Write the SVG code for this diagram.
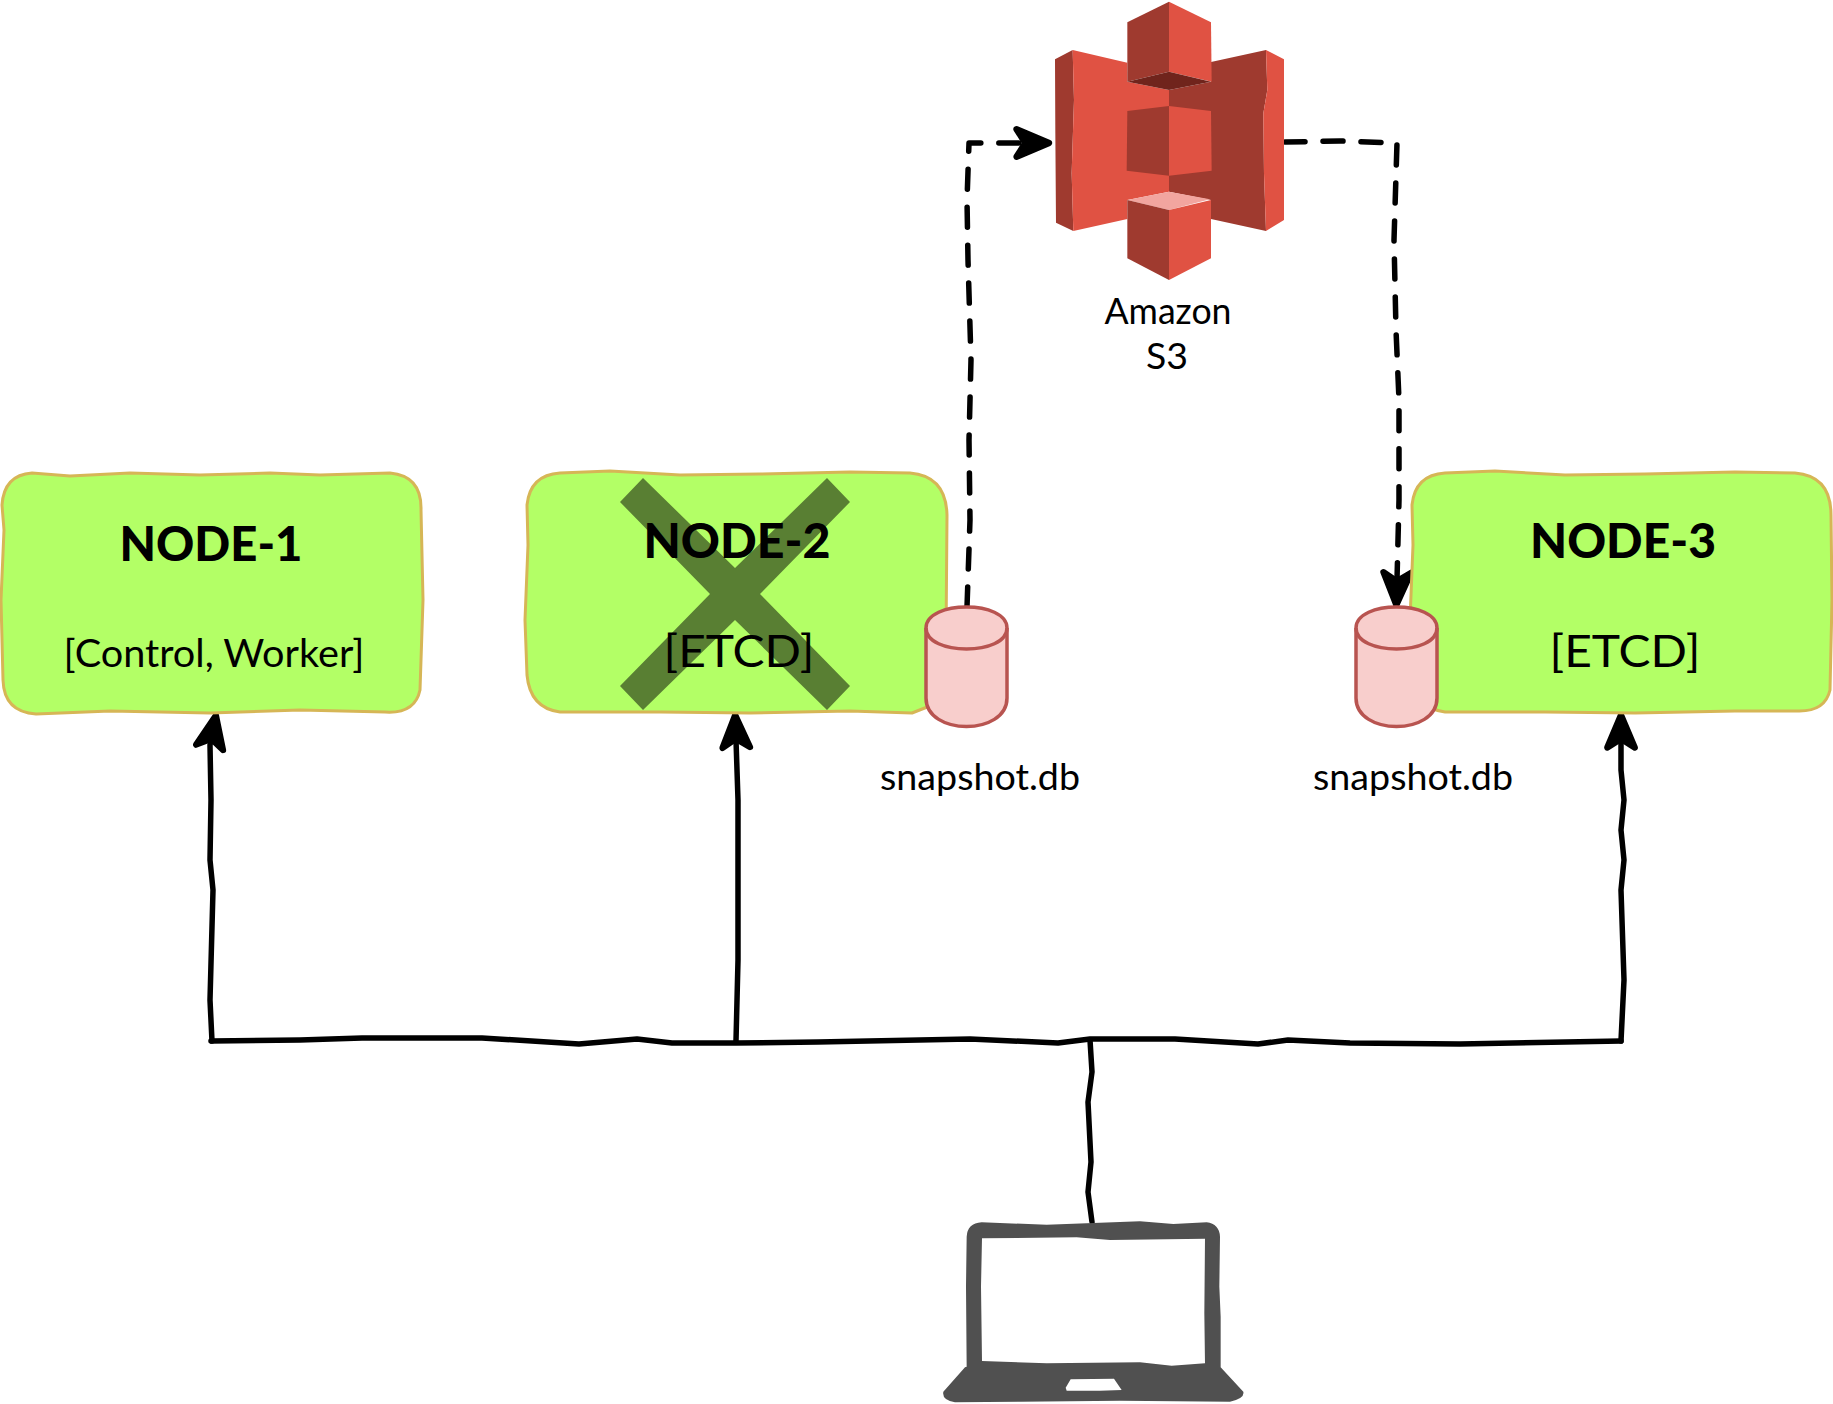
<svg xmlns="http://www.w3.org/2000/svg" width="1833" height="1404" viewBox="0 0 1833 1404">
<style>
.box{fill:#b3ff66;stroke:#d6b656;stroke-width:3;stroke-linejoin:round}
.t{font-family:"Lato","Noto Sans",sans-serif;fill:#000;text-anchor:middle}
.h{font-size:47px;font-weight:900}
.s{font-size:45px}
.m{font-size:37px}
.c{fill:none;stroke:#000;stroke-width:5.5;stroke-linejoin:round;stroke-linecap:round}
.d{stroke-dasharray:20 18}
.cyl{fill:#f8cecc;stroke:#b85450;stroke-width:3.5}
.r{fill:#e05243}.k{fill:#9f3a2f}
</style>
<defs>
<marker id="ah" markerUnits="userSpaceOnUse" markerWidth="50" markerHeight="50" viewBox="-5 -20 40 40" refX="6" refY="0" orient="auto">
<path d="M0,-11 L26,0 L0,11 L7,0 Z" fill="#000" stroke="#000" stroke-width="5" stroke-linejoin="round"/>
</marker>
</defs>
<g id="connectors">
<path class="c" d="M211,1041 L300,1040 L362,1038 L482,1038 L579,1044 L637,1039 L672,1043 L736,1043 L818,1042 L970,1039 L1058,1043 L1090,1039 L1175,1039 L1208,1041 L1258,1044 L1288,1040 L1350,1043 L1460,1044 L1621,1041"/>
<path class="c" d="M1090,1040 L1092,1072 L1088,1102 L1091,1162 L1088,1192 L1092,1222"/>
<path class="c" d="M212,1041 L210,1000 L213,890 L210,860 L211,800 L210,745 L211,740" marker-end="url(#ah)"/>
<path class="c" d="M736,1041 L738,960 L738,800 L736,740" marker-end="url(#ah)"/>
<path class="c" d="M1621,1041 L1624,980 L1621,890 L1624,860 L1621,830 L1624,800 L1621,770 L1621,740" marker-end="url(#ah)"/>
<path class="c d" d="M967,607 L970,520 L969,440 L971,360 L968,260 L967,200 L969,143 L1024,143" marker-end="url(#ah)"/>
<path class="c d" d="M1285,142 L1340,141 L1397,143 L1394,240 L1396,330 L1399,400 L1399,500 L1397,580" marker-end="url(#ah)"/>
</g>
<g id="node-1">
<path class="box" d="M32,473 L70,476 L130,473 L200,475 L270,473 L320,475 L390,473 Q422,476 421,510 L423,600 L420,690 Q415,714 385,712 L300,710 L210,713 L110,711 L36,714 Q4,712 3,680 L1,600 L4,530 L2,505 Q4,475 32,473 Z"/>
<text class="t h" x="211" y="561" textLength="183" lengthAdjust="spacingAndGlyphs">NODE-1</text>
<text class="t s" x="214" y="667" textLength="301" lengthAdjust="spacingAndGlyphs" style="font-size:39px">[Control, Worker]</text>
</g>
<g id="node-2">
<path class="box" d="M560,473 L610,471 L680,475 L760,474 L850,472 L910,473 Q946,476 947,515 L946,640 L945,700 L912,713 L850,711 L750,713 L660,712 L560,712 Q530,708 527,675 L525,620 L528,545 L527,505 Q530,475 560,473 Z"/>
<path id="cross" fill="#000" fill-opacity="0.5" d="M643,478 L735,568 L827,478 L850,502 L760,594 L850,686 L827,710 L735,620 L643,710 L620,686 L710,594 L620,502 Z"/>
<text class="t h" x="737" y="558" textLength="187" lengthAdjust="spacingAndGlyphs">NODE-2</text>
<text class="t s" x="739" y="667" textLength="151" lengthAdjust="spacingAndGlyphs">[ETCD]</text>
</g>
<g id="node-3">
<path class="box" d="M1445,473 L1495,471 L1565,475 L1645,474 L1735,472 L1795,473 Q1831,476 1831,515 L1832,600 L1830,690 Q1825,712 1797,711 L1735,711 L1635,713 L1545,712 L1445,712 Q1415,708 1412,675 L1410,620 L1413,545 L1412,505 Q1415,475 1445,473 Z"/>
<text class="t h" x="1623" y="558" textLength="186" lengthAdjust="spacingAndGlyphs">NODE-3</text>
<text class="t s" x="1625" y="667" textLength="151" lengthAdjust="spacingAndGlyphs">[ETCD]</text>
</g>
<g id="snapshot-1">
<path class="cyl" d="M926,628 C926,600 1007,600 1007,628 L1007,698 C1007,736 926,736 926,698 Z"/>
<path class="cyl" style="fill:none" d="M926,628 C926,656 1007,656 1007,628"/>
<text class="t m" x="980" y="790" textLength="200" lengthAdjust="spacingAndGlyphs">snapshot.db</text>
</g>
<g id="snapshot-2">
<path class="cyl" d="M1356,628 C1356,600 1437,600 1437,628 L1437,698 C1437,736 1356,736 1356,698 Z"/>
<path class="cyl" style="fill:none" d="M1356,628 C1356,656 1437,656 1437,628"/>
<text class="t m" x="1413" y="790" textLength="200" lengthAdjust="spacingAndGlyphs">snapshot.db</text>
</g>
<g id="s3">
<g transform="translate(1020 0) scale(0.33333)">
<path class="k" d="M105,178 L158,150 L162,300 L155,520 L160,693 L108,668 L106,400 Z"/>
<path class="r" d="M158,150 L322,188 L322,245 L447,270 L447,575 L322,600 L322,657 L160,693 L155,520 L162,300 Z"/>
<path class="k" d="M738,150 L573,186 L573,245 L447,270 L447,575 L573,600 L573,657 L738,693 L732,520 L730,340 L742,270 Z"/>
<path class="r" d="M738,150 L792,178 L792,660 L738,693 L732,520 L730,340 L742,270 Z"/>
<path class="k" d="M447,5 L322,67 L322,245 L447,215 Z"/>
<path class="r" d="M447,5 L573,67 L575,245 L447,215 Z"/>
<path fill="#70241c" d="M322,245 L447,215 L573,245 L447,270 Z"/>
<path class="k" d="M447,318 L322,333 L320,512 L447,527 Z"/>
<path class="r" d="M447,318 L573,333 L575,512 L447,527 Z"/>
<path fill="#f2a59f" d="M322,600 L447,575 L570,598 L447,630 Z"/>
<path class="k" d="M322,600 L447,630 L447,840 L322,775 Z"/>
<path class="r" d="M447,630 L573,600 L573,775 L447,840 Z"/>
</g>
<text class="t m" x="1168" y="324" textLength="127" lengthAdjust="spacingAndGlyphs">Amazon</text>
<text class="t m" x="1167" y="369" textLength="42" lengthAdjust="spacingAndGlyphs">S3</text>
</g>
<g id="laptop">
<path transform="translate(920 1020) scale(0.33333)" fill="#505050" fill-rule="evenodd" d="M185,607 L380,614 L660,604 L760,612 L860,607 Q898,612 900,650 L898,800 L902,890 L902,1042 L970,1115 Q975,1135 930,1145 L600,1142 L300,1145 L105,1147 Q65,1140 70,1115 L135,1042 L140,1040 L138,800 L140,650 Q142,610 185,607 Z M186,655 L470,652 L570,660 L855,656 L853,880 L855,1030 L755,1037 L660,1027 L380,1030 L186,1023 L183,800 Z M452,1078 L582,1076 L605,1110 L540,1112 L440,1112 L437,1103 Z"/>
</g>
</svg>
